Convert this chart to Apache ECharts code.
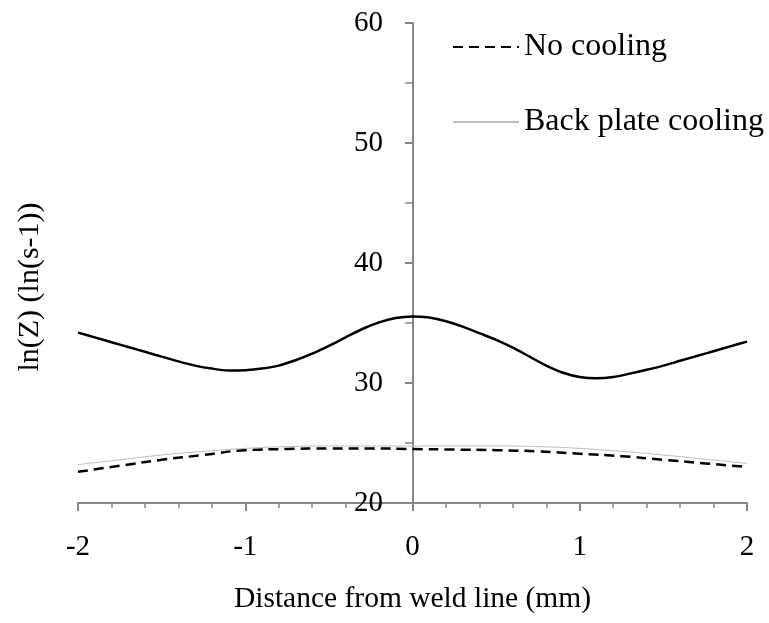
<!DOCTYPE html>
<html><head><meta charset="utf-8">
<script src="https://cdn.jsdelivr.net/npm/echarts@6/dist/echarts.min.js"></script>
<style>html,body{margin:0;padding:0;background:#fff}#c{width:769px;height:623px}</style>
</head><body><div id="c"></div>
<script>
const solidX = [-2,-1.9,-1.8,-1.7,-1.6,-1.5,-1.4,-1.3,-1.2,-1.1,-1,-0.9,-0.8,-0.7,-0.6,-0.5,-0.4,-0.3,-0.2,-0.1,0,0.1,0.2,0.3,0.4,0.5,0.6,0.7,0.8,0.9,1,1.1,1.2,1.3,1.4,1.5,1.6,1.7,1.8,1.9,2];
const solidVals = [34.2,33.8,33.4,33.0,32.6,32.2,31.8,31.45,31.2,31.05,31.07,31.2,31.45,31.9,32.45,33.1,33.8,34.5,35.05,35.42,35.55,35.45,35.15,34.7,34.15,33.6,32.95,32.2,31.45,30.85,30.5,30.4,30.5,30.78,31.1,31.45,31.85,32.25,32.65,33.05,33.45];
const coolX = [-2,-1.75,-1.5,-1.25,-1,-0.75,-0.5,-0.25,0,0.25,0.5,0.75,1,1.25,1.5,1.75,2];
const noCooling = [22.6,23.1,23.6,24.0,24.4,24.5,24.55,24.55,24.5,24.45,24.4,24.3,24.1,23.9,23.6,23.3,23.0];
const backPlate = [23.2,23.6,24.0,24.3,24.55,24.7,24.75,24.75,24.75,24.75,24.75,24.7,24.55,24.3,24.0,23.65,23.3];
const seriesNames = ['No cooling','Back plate cooling'];
const xTicks = [-2,-1,0,1,2];
const yTicks = [20,30,40,50,60];

const pair = (xs,a) => xs.map((x,i)=>[x,a[i]]);
const font = 'Liberation Serif, Times New Roman, serif';
const grey = '#868686';
const chart = echarts.init(document.getElementById('c'));
chart.setOption({
  animation:false,
  grid:{left:78,right:22,top:23,bottom:120,outerBoundsMode:'none',containLabel:false},
  legend:{
    data:seriesNames, orient:'vertical', left:447, top:26, itemWidth:66, itemHeight:14, itemGap:43,
    itemStyle:{opacity:0},
    textStyle:{fontFamily:font,fontSize:32,color:'#000'}
  },
  xAxis:{type:'value',min:-2,max:2,interval:1,
    name:'Distance from weld line (mm)',nameLocation:'middle',nameGap:81,
    nameTextStyle:{fontFamily:font,fontSize:29.5,color:'#000'},
    axisLine:{lineStyle:{color:grey,width:2}},
    axisTick:{show:true,length:8,lineStyle:{color:grey,width:2}},
    minorTick:{show:true,splitNumber:5,length:5,lineStyle:{color:grey,width:1.5}},
    splitLine:{show:false},
    axisLabel:{fontFamily:font,fontSize:29,color:'#000',margin:30,formatter:v=>xTicks.includes(v)?String(v):''}
  },
  yAxis:[
   {type:'value',min:20,max:60,interval:10,position:'left',offset:-335,
    axisLine:{onZero:false,lineStyle:{color:grey,width:2}},
    axisTick:{show:true,length:8,lineStyle:{color:grey,width:2}},
    minorTick:{show:true,splitNumber:2,length:8,lineStyle:{color:grey,width:1.5}},
    splitLine:{show:false},
    axisLabel:{fontFamily:font,fontSize:29,color:'#000',margin:30,formatter:v=>yTicks.includes(v)?String(v):''}
   },
   {type:'value',min:20,max:60,interval:10,position:'left',
    name:'ln(Z) (ln(s-1))',nameLocation:'middle',nameGap:33,nameRotate:90,
    nameTextStyle:{fontFamily:font,fontSize:30,color:'#000',padding:[0,48,0,0]},
    axisLine:{show:false},axisTick:{show:false},axisLabel:{show:false},splitLine:{show:false}
   }
  ],
  series:[
    {name:'solid',type:'line',data:pair(solidX,solidVals),smooth:0.3,symbol:'none',
     lineStyle:{color:'#000',width:2.5},itemStyle:{color:'#000'}},
    {name:seriesNames[0],type:'line',data:pair(coolX,noCooling),smooth:0.5,symbol:'none',
     lineStyle:{color:'#000',width:2.5,type:[10,6]},itemStyle:{color:'#000'}},
    {name:seriesNames[1],type:'line',data:pair(coolX,backPlate),smooth:0.5,symbol:'none',
     lineStyle:{color:'#bdbdbd',width:1},itemStyle:{color:'#bdbdbd'}}
  ]
});
</script></body></html>
